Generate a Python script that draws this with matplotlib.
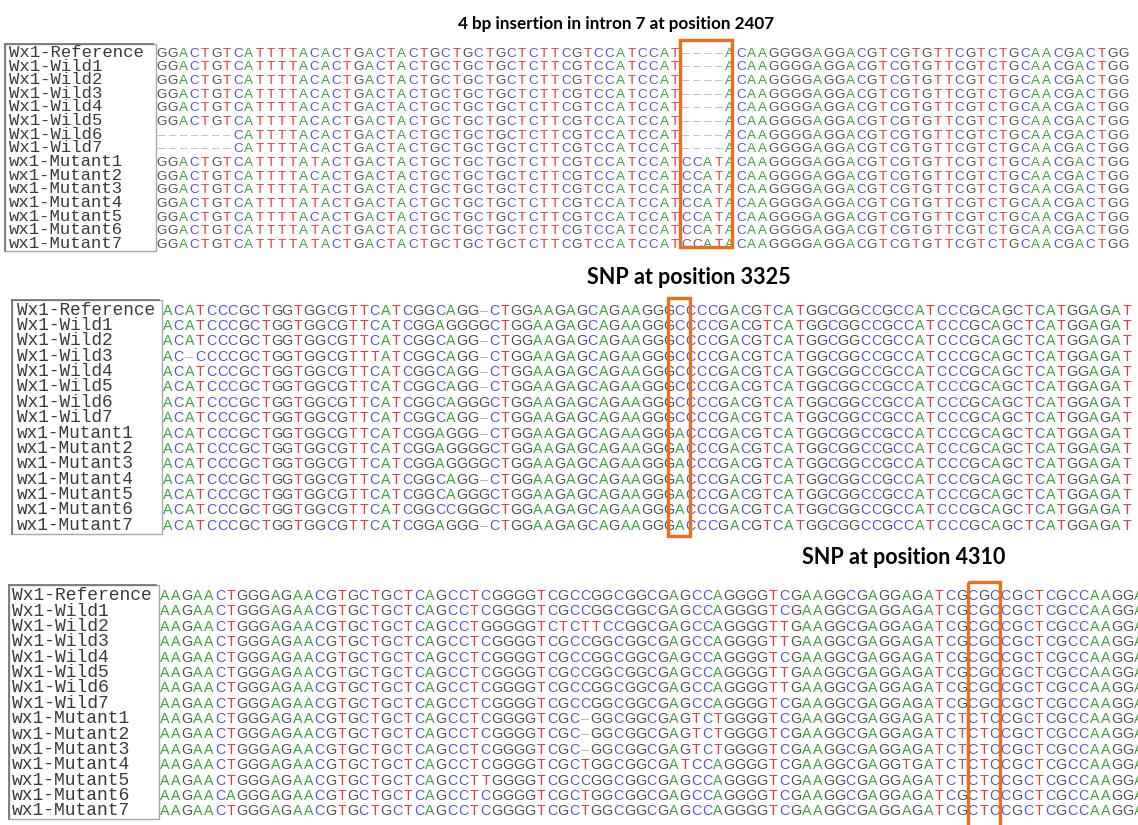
import matplotlib
matplotlib.use("Agg")
import matplotlib.pyplot as plt
from matplotlib.patches import Rectangle

W, H = 1138, 825

# ---------------- data ----------------
names = ["Wx1-Reference", "Wx1-Wild1", "Wx1-Wild2", "Wx1-Wild3", "Wx1-Wild4",
         "Wx1-Wild5", "Wx1-Wild6", "Wx1-Wild7", "wx1-Mutant1", "wx1-Mutant2",
         "wx1-Mutant3", "wx1-Mutant4", "wx1-Mutant5", "wx1-Mutant6", "wx1-Mutant7"]

titles = ["4 bp insertion in intron 7 at position 2407",
          "SNP at position 3325",
          "SNP at position 4310"]


def edit(seq, start, new):
    return seq[:start] + new + seq[start + len(new):]


# Panel 1 : 4 bp insertion
ref1 = "GGACTGTCATTTTACACTGACTACTGCTGCTGCTCTTCGTCCATCCAT----ACAAGGGGAGGACGTCGTGTTCGTCTGCAACGACTGG"
mutA = edit(ref1, 48, "CCAT")
mutB = edit(mutA, 14, "T")
seqs1 = [ref1, ref1, ref1, ref1, ref1, ref1,
         edit(ref1, 0, "-------"), edit(ref1, 0, "-------"),
         mutB, mutA, mutB, mutB, mutA, mutB, mutB]

# Panel 2 : SNP 3325
ref2 = "ACATCCCGCTGGTGGCGTTCATCGGCAGG-CTGGAAGAGCAGAAGGGCCCCGACGTCATGGCGGCCGCCATCCCGCAGCTCATGGAGAT"
seg2 = ["ATCGGCAGG-", "ATCGGAGGGG", "ATCGGCAGG-", "ATCGGCAGG-", "ATCGGCAGG-",
        "ATCGGCAGG-", "ATCGGCAGGG", "ATCGGCAGG-", "ATCGGAGGG-", "ATCGGAGGGG",
        "ATCGGAGGGG", "ATCGGCAGG-", "ATCGGCAGGG", "ATCGGCCGGG", "ATCGGAGGG-"]
snp2 = ["C"] * 8 + ["A"] * 7
seqs2 = []
for i in range(15):
    s = edit(ref2, 20, seg2[i])
    s = edit(s, 47, snp2[i])
    if i == 3:
        s = edit(s, 0, "AC-CCCCGCTGGTGGCGTTT")
    seqs2.append(s)

# Panel 3 : SNP 4310
ref3 = "AAGAACTGGGAGAACGTGCTGCTCAGCCTCGGGGTCGCCGGCGGCGAGCCAGGGGTCGAAGGCGAGGAGATCGCGCCGCTCGCCAAGGA"
segA = "GCTCAGCCTCGGGGTCGCCGGCGGCGAGCCAGGGGT"
seg3 = [segA, segA, "GCTCAGCCTGGGGGTCTCTTCCGGCGAGCCAGGGGT", segA, segA, segA, segA, segA,
        "GCTCAGCCTCGGGGTCGC-GGCGGCGAGTCTGGGGT", "GCTCAGCCTCGGGGTCGC-GGCGGCGAGTCTGGGGT",
        "GCTCAGCCTCGGGGTCGC-GGCGGCGAGTCTGGGGT", "GCTCAGCCTCGGGGTCGCTGGCGGCGATCCAGGGGT",
        "GCTCAGCCTTGGGGTCGCCGGCGGCGAGCCAGGGGT", "GCTCAGCCTCGGGGTCGCTGGCGGCGAGCCAGGGGT",
        "GCTCAGCCTCGGGGTCGCTGGCGGCGAGCCAGGGGT"]
col56 = ["C", "C", "T", "T", "C", "T", "T", "C", "C", "C", "C", "C", "C", "C", "C"]
seg3b = ["TCGCGCCGCT"] * 8 + ["TCTCTCCGCT"] * 5 + ["TCGCTCCGCT"] * 2
seqs3 = []
for i in range(15):
    s = edit(ref3, 20, seg3[i])
    s = edit(s, 56, col56[i])
    s = edit(s, 70, seg3b[i])
    if i == 11:
        s = edit(s, 60, "GGCGAGGTGA")
    if i == 13:
        s = edit(s, 0, "AAGAACAGGG")
    seqs3.append(s)

# highlighted columns (box extent in alignment columns / rows)
box_cols = [(47.4, 52.2), (45.9, 47.9), (72.6, 75.5)]
box_rows = [(-0.9, 14.3), (-0.75, 14.7), (-0.85, 15.6)]

# ---------------- style / layout ----------------
colors = {"A": "#3fa23f", "C": "#5656d6", "G": "#505050", "T": "#e23a36", "-": "#b8b8b8"}
panels = [
    dict(seqs=seqs1, x0=156, cw=10.93, y0=52, rh=13.64, fs=9.7, lx=9, bl=5, lfs=12.4),
    dict(seqs=seqs2, x0=162, cw=10.9, y0=309.5, rh=15.375, fs=10.3, lx=17, bl=12, lfs=12.75),
    dict(seqs=seqs3, x0=159, cw=11.07, y0=595, rh=15.375, fs=10.3, lx=12, bl=9, lfs=13.0),
]
title_pos = [(616, 24, 12.3), (689, 278, 15.5), (904, 558, 15.5)]

fig = plt.figure(figsize=(W / 100, H / 100), dpi=100)
fig.patch.set_facecolor("white")

for p, (bc, br) in zip(panels, zip(box_cols, box_rows)):
    ncol = len(p["seqs"][0])
    top = p["y0"] - p["rh"] / 2
    ax = fig.add_axes([p["x0"] / W, 1 - (top + 15 * p["rh"]) / H,
                       ncol * p["cw"] / W, 15 * p["rh"] / H])
    ax.set_xlim(-0.5, ncol - 0.5)
    ax.set_ylim(14.5, -0.5)
    ax.axis("off")
    cap = 0.716 * p["fs"] * 100 / 72 / 2 / p["rh"]
    for r, s in enumerate(p["seqs"]):
        for c, ch in enumerate(s):
            ax.text(c, r + cap, ch if ch != "-" else "\u2013", ha="center", va="baseline",
                    fontsize=p["fs"], color=colors[ch], family="Liberation Sans",
                    clip_on=False)
    # labels
    lcap = 0.57 * p["lfs"] * 100 / 72 / 2 / p["rh"]
    lx = (p["lx"] - p["x0"]) / p["cw"] - 0.5
    for r, n in enumerate(names):
        ax.text(lx, r + lcap, n, ha="left", va="baseline", fontsize=p["lfs"],
                color="#3a3a3a", family="Liberation Mono", clip_on=False)
    # label box
    bl = (p["bl"] - p["x0"]) / p["cw"] - 0.5
    ax.add_patch(Rectangle((bl, -0.62), -0.5 - bl, 15.2, fill=False,
                           edgecolor="#a8a8a8", lw=1.0, clip_on=False))
    ax.plot([bl, bl], [-0.62, 14.58], color="#707070", lw=1.2, clip_on=False)
    ax.plot([bl, -0.5 - 0.3], [-0.62, -0.62], color="#707070", lw=1.2, clip_on=False)
    # highlight box
    ax.add_patch(Rectangle((bc[0], br[0]), bc[1] - bc[0], br[1] - br[0], fill=False,
                           edgecolor="#ec6d1c", lw=2.4, clip_on=False, zorder=5))

for t, (x, y, fs) in zip(titles, title_pos):
    fig.text(x / W, 1 - y / H, t, ha="center", va="center", fontsize=fs,
             fontweight="bold", family="Lato", color="black")

fig.savefig("out.png", dpi=100, facecolor="white")
